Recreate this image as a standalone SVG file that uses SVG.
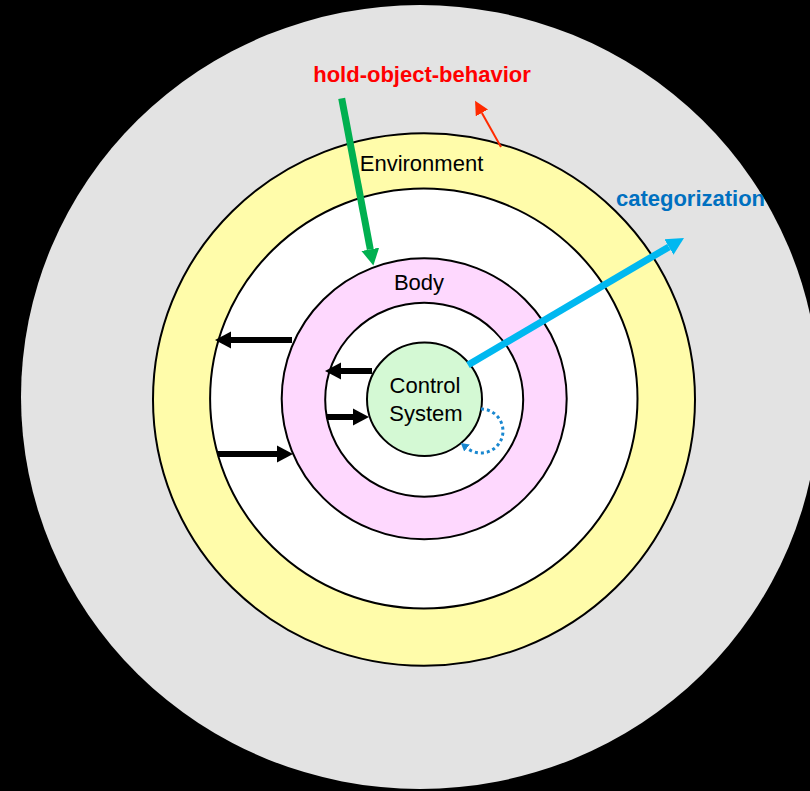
<svg xmlns="http://www.w3.org/2000/svg" width="810" height="791" viewBox="0 0 810 791">
  <style>
    .ring { stroke: #000; stroke-width: 2; }
    .lbl { font-family: "Liberation Sans", Arial, sans-serif; font-size: 22px; fill: #000; text-anchor: middle; }
    .bold { font-weight: bold; }
    .blk { stroke: #000; stroke-width: 6; fill: none; }
  </style>
  <defs>
    <marker id="headBlack" markerUnits="userSpaceOnUse" markerWidth="17" markerHeight="18" refX="0" refY="9" orient="auto">
      <path d="M0,0.5 L16,9 L0,17.5 z" fill="#000"/>
    </marker>
    <marker id="headGreen" markerUnits="userSpaceOnUse" markerWidth="17" markerHeight="19" refX="0" refY="9.5" orient="auto">
      <path d="M0,0.5 L16.5,9.5 L0,18.5 z" fill="#00b050"/>
    </marker>
    <marker id="headCyan" markerUnits="userSpaceOnUse" markerWidth="18" markerHeight="19" refX="0" refY="9.5" orient="auto">
      <path d="M0,0.5 L17.5,9.5 L0,18.5 z" fill="#00b8f0"/>
    </marker>
    <marker id="headRed" markerUnits="userSpaceOnUse" markerWidth="15" markerHeight="14" refX="0" refY="7" orient="auto">
      <path d="M0,0 L14,7 L0,14 z" fill="#ff2a00"/>
    </marker>
    <marker id="headDot" markerUnits="userSpaceOnUse" markerWidth="10" markerHeight="10" refX="0" refY="5" orient="auto">
      <path d="M0,0.5 L8,5 L0,9.5 z" fill="#1a88d0"/>
    </marker>
  </defs>

  <rect x="0" y="0" width="810" height="791" fill="#000"/>

  <g id="world">
    <ellipse cx="420" cy="397" rx="399" ry="392" fill="#e3e3e3"/>
  </g>
  <g id="environment">
    <ellipse class="ring" cx="424" cy="399.5" rx="271" ry="266.3" fill="#fffcaa"/>
    <ellipse class="ring" cx="423.8" cy="398.5" rx="213.7" ry="210" fill="#fff"/>
    <text class="lbl" x="421.5" y="170.5">Environment</text>
  </g>
  <g id="body">
    <ellipse class="ring" cx="424.2" cy="398.8" rx="142.5" ry="140.5" fill="#fed8fe"/>
    <ellipse class="ring" cx="424.2" cy="399.7" rx="99" ry="97" fill="#fff"/>
    <text class="lbl" x="419" y="289.5">Body</text>
  </g>
  <g id="control-system">
    <ellipse class="ring" cx="424.5" cy="399.3" rx="57.5" ry="56.7" fill="#d4f9d4"/>
    <text class="lbl" x="425" y="393">Control</text>
    <text class="lbl" x="426" y="421">System</text>
  </g>

  <g id="hold-object-behavior-label">
    <text class="lbl bold" x="422" y="81.5" fill="#ff0000" style="fill:#ff0000">hold-object-behavior</text>
  </g>
  <g id="categorization-label">
    <text class="lbl bold" x="690.5" y="205.5" style="fill:#0070c0">categorization</text>
  </g>

  <g id="connectors">
    <line x1="341.7" y1="98.3" x2="370.3" y2="249.3" stroke="#00b050" stroke-width="7" marker-end="url(#headGreen)"/>
    <line x1="501" y1="147" x2="481.9" y2="112.9" stroke="#ff2a00" stroke-width="2" marker-end="url(#headRed)"/>
    <line x1="468" y1="365" x2="668.9" y2="246.9" stroke="#00b8f0" stroke-width="7" marker-end="url(#headCyan)"/>
    <line class="blk" x1="292" y1="340" x2="231" y2="340" marker-end="url(#headBlack)"/>
    <line class="blk" x1="372" y1="371" x2="341" y2="371" marker-end="url(#headBlack)"/>
    <line class="blk" x1="327" y1="417" x2="353" y2="417" marker-end="url(#headBlack)"/>
    <line class="blk" x1="218" y1="454" x2="277" y2="454" marker-end="url(#headBlack)"/>
    <path d="M481,409 A22,22 0 1 1 467,448" fill="none" stroke="#1a88d0" stroke-width="3" stroke-dasharray="3 3" marker-end="url(#headDot)"/>
  </g>
</svg>
